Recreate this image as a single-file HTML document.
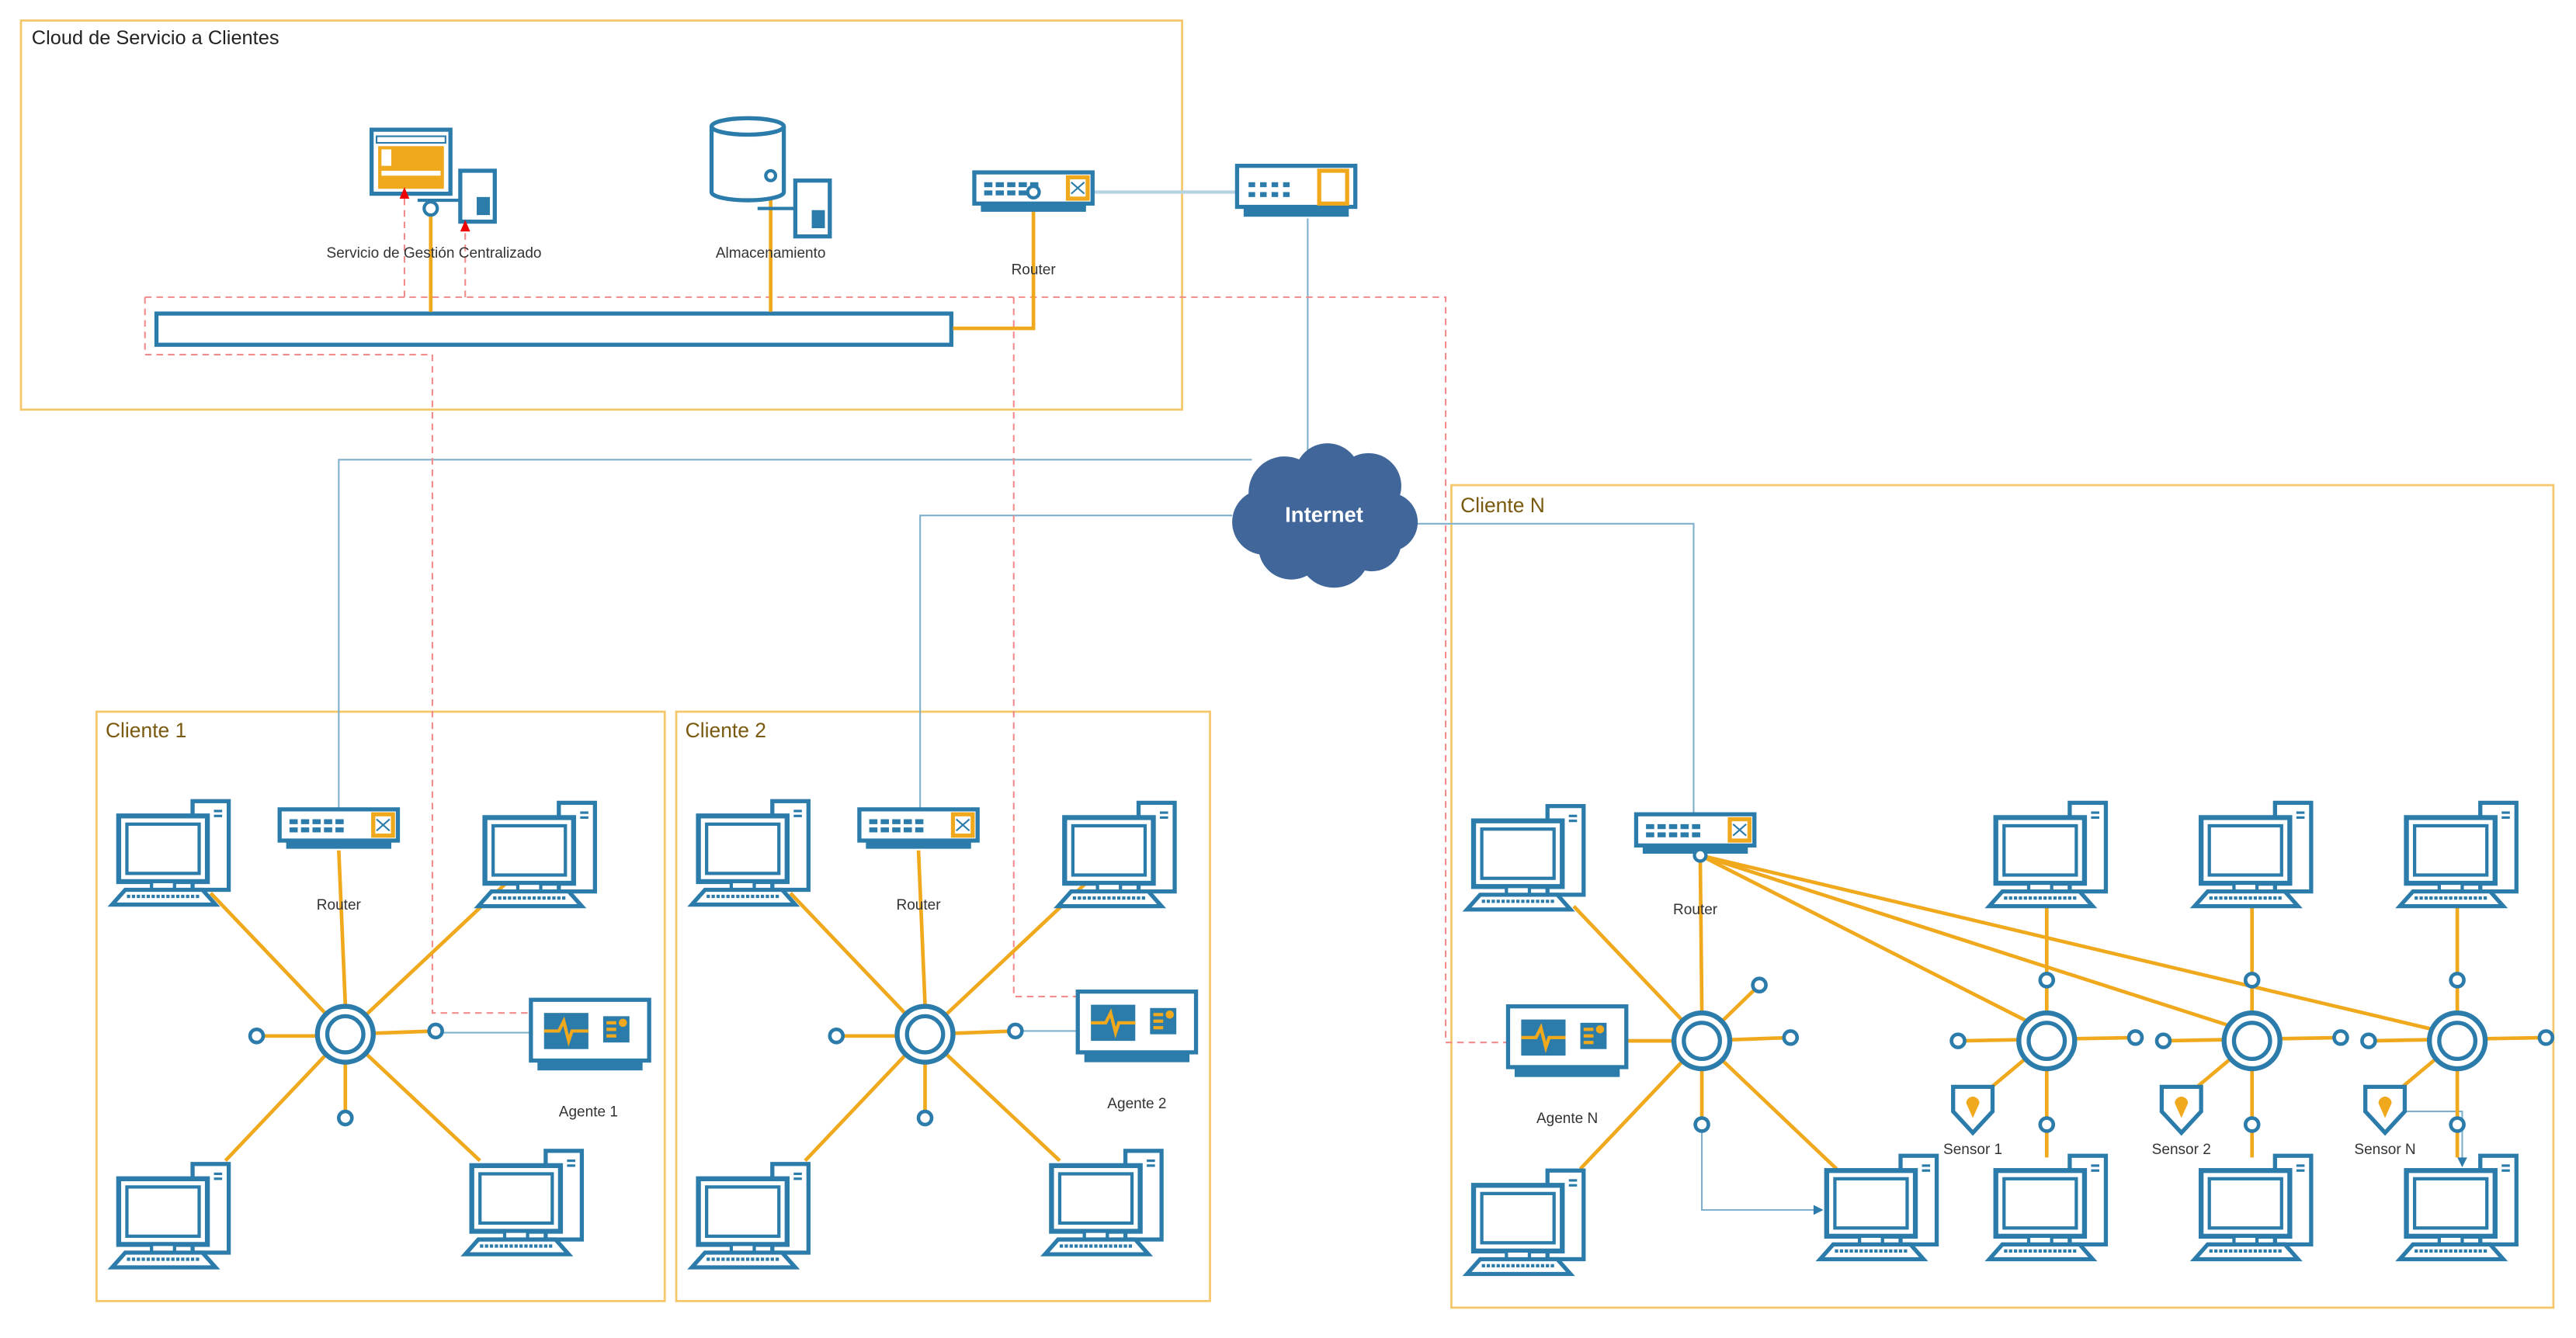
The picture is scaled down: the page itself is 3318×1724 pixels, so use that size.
<!DOCTYPE html>
<html><head><meta charset="utf-8"><style>
html,body{margin:0;padding:0;background:#fff;}
svg{display:block;}
text{font-family:"Liberation Sans",sans-serif;}
</style></head><body>
<svg width="3318" height="1724" viewBox="0 0 1568 815" xmlns="http://www.w3.org/2000/svg">
<defs>
<g id="pc">
 <rect x="50" y="1" width="22" height="54" fill="#fff" stroke="#2b7bab" stroke-width="2.5"/>
 <line x1="63" y1="7" x2="68" y2="7" stroke="#2b7bab" stroke-width="1.5"/>
 <line x1="63" y1="10" x2="68" y2="10" stroke="#2b7bab" stroke-width="1.5"/>
 <rect x="5" y="10" width="54" height="40" fill="#fff" stroke="#2b7bab" stroke-width="3"/>
 <rect x="10" y="15" width="44" height="30" fill="#fff" stroke="#2b7bab" stroke-width="2"/>
 <rect x="25" y="50" width="14" height="5" fill="#fff" stroke="#2b7bab" stroke-width="2"/>
 <polygon points="1,64 9,55 56,55 64,64" fill="#fff" stroke="#2b7bab" stroke-width="2.5"/>
 <line x1="10" y1="59" x2="54" y2="59" stroke="#2b7bab" stroke-width="2" stroke-dasharray="2,1"/>
</g>
<g id="router">
 <rect x="1" y="1" width="72" height="19" fill="#fff" stroke="#2b7bab" stroke-width="2.5"/>
 <rect x="5" y="20" width="64" height="5" fill="#2b7bab"/>
 <g fill="#2b7bab"><rect x="7" y="7" width="5" height="3"/><rect x="14" y="7" width="5" height="3"/><rect x="21" y="7" width="5" height="3"/><rect x="28" y="7" width="5" height="3"/><rect x="35" y="7" width="5" height="3"/>
 <rect x="7" y="12" width="5" height="3"/><rect x="14" y="12" width="5" height="3"/><rect x="21" y="12" width="5" height="3"/><rect x="28" y="12" width="5" height="3"/><rect x="35" y="12" width="5" height="3"/></g>
 <rect x="58" y="4" width="12" height="13" fill="#fff" stroke="#f0a81c" stroke-width="2.5"/>
 <path d="M60,7 L68,14 M60,14 L68,7" stroke="#2b7bab" stroke-width="1"/>
</g>
<g id="agent">
 <rect x="1" y="1" width="72" height="37" fill="#fff" stroke="#2b7bab" stroke-width="2.5"/>
 <rect x="5" y="38" width="64" height="6" fill="#2b7bab"/>
 <rect x="9" y="9" width="27" height="22" fill="#2b7bab"/>
 <path d="M9,20 L18,20 L21,14 L24,26 L26,20 L36,20" stroke="#f0a81c" stroke-width="2" fill="none"/>
 <rect x="45" y="11" width="16" height="16" fill="#2b7bab"/>
 <g fill="#f0a81c"><rect x="47" y="14" width="6" height="2"/><rect x="47" y="18" width="6" height="2"/><rect x="47" y="22" width="6" height="2"/><circle cx="57" cy="15" r="2.5"/></g>
</g>
<g id="hub">
 <circle r="17" fill="#fff" stroke="#2b7bab" stroke-width="3"/>
 <circle r="11" fill="#fff" stroke="#2b7bab" stroke-width="2.5"/>
</g>
<g id="dot"><circle r="4" fill="#fff" stroke="#2b7bab" stroke-width="2.2"/></g>
<g id="sensor">
 <path d="M-12,-13 L12,-13 L12,2 L0,15 L-12,2 Z" fill="#fff" stroke="#2b7bab" stroke-width="2.5"/>
 <path d="M0,6 L-4,-3 A4,4 0 1 1 4,-3 Z" fill="#f0a81c"/>
</g>
</defs>

<rect x="12.5" y="12.5" width="707" height="237" fill="none" stroke="#f5c76a" stroke-width="1.3"/>
<text x="19" y="27" font-size="12" fill="#222">Cloud de Servicio a Clientes</text>
<rect x="58.5" y="433.5" width="346" height="359" fill="none" stroke="#f5c76a" stroke-width="1.3"/>
<text x="64" y="449" font-size="12.5" fill="#7a5a10">Cliente 1</text>
<rect x="411.5" y="433.5" width="325" height="359" fill="none" stroke="#f5c76a" stroke-width="1.3"/>
<text x="417" y="449" font-size="12.5" fill="#7a5a10">Cliente 2</text>
<rect x="883.5" y="295.5" width="671" height="501" fill="none" stroke="#f5c76a" stroke-width="1.3"/>
<text x="889" y="312" font-size="12.5" fill="#7a5a10">Cliente N</text>

<g stroke="#7fb0cc" stroke-width="1" fill="none">
 <path d="M666,117 L752,117" stroke="#b5d3e2" stroke-width="2"/>
 <path d="M796,133 L796,275"/>
 <path d="M206,492 L206,280 L762,280"/>
 <path d="M560,492 L560,314 L750,314"/>
 <path d="M862,319 L1031,319 L1031,495"/>
 <path d="M266,629 L322,629"/>
 <path d="M619,628 L655,628"/>
 <path d="M1036,690 L1036,737 L1108,737"/>
 <path d="M1465,677 L1499,677 L1499,708"/>
</g>
<polygon points="1110,737 1104,734 1104,740" fill="#2b7bab"/>
<polygon points="1499,711 1496,705 1502,705" fill="#2b7bab"/>

<g stroke="#f28b8b" stroke-width="1" fill="none" stroke-dasharray="4,3">
 <path d="M88,181 L880,181 L880,635 L917,635"/>
 <path d="M88,181 L88,216 L263,216 L263,617 L322,617"/>
 <path d="M617,181 L617,607 L655,607"/>
</g>

<rect x="95" y="191" width="484" height="19" fill="#fff" stroke="#2b7bab" stroke-width="2.5"/>
<g stroke="#f0a81c" stroke-width="2.2" fill="none">
 <path d="M262,128 L262,190"/>
 <path d="M469,105 L469,190"/>
 <path d="M629,117 L629,200 L580,200"/>
</g>
<rect x="226" y="79" width="48" height="39" fill="#fff" stroke="#2b7bab" stroke-width="2.5"/>
<rect x="229" y="83" width="42" height="4" fill="#fff" stroke="#2b7bab" stroke-width="1"/>
<rect x="230" y="89" width="40" height="26" fill="#f0a81c"/>
<rect x="232" y="91" width="6" height="10" fill="#fff"/>
<rect x="232" y="104" width="36" height="3" fill="#fff"/>
<path d="M254,122 L280,122" stroke="#2b7bab" stroke-width="2"/>
<rect x="280" y="104" width="21" height="31" fill="#fff" stroke="#2b7bab" stroke-width="2.5"/>
<rect x="290" y="120" width="8" height="11" fill="#2b7bab"/>
<circle cx="262" cy="127" r="4" fill="#fff" stroke="#2b7bab" stroke-width="2"/>
<g stroke="#f28b8b" stroke-width="1" fill="none" stroke-dasharray="4,3">
 <path d="M246,181 L246,120"/>
 <path d="M283,181 L283,140"/>
</g>
<polygon points="246,114 243,121 249,121" fill="#e00"/>
<polygon points="283,134 280,141 286,141" fill="#e00"/>
<text x="264" y="157" font-size="9" fill="#333" text-anchor="middle">Servicio de Gestión Centralizado</text>
<path d="M433,77 L433,117 A22,5 0 0 0 477,117 L477,77" fill="#fff" stroke="#2b7bab" stroke-width="2.5"/>
<ellipse cx="455" cy="77" rx="22" ry="5" fill="#fff" stroke="#2b7bab" stroke-width="2.5"/>
<path d="M461,127 L484,127" stroke="#2b7bab" stroke-width="2"/>
<rect x="484" y="110" width="21" height="34" fill="#fff" stroke="#2b7bab" stroke-width="2.5"/>
<rect x="494" y="128" width="8" height="11" fill="#2b7bab"/>
<circle cx="469" cy="107" r="3" fill="#fff" stroke="#2b7bab" stroke-width="2"/>
<text x="469" y="157" font-size="9" fill="#333" text-anchor="middle">Almacenamiento</text>
<use href="#router" x="592" y="104"/>
<circle cx="629" cy="117" r="3.5" fill="#fff" stroke="#2b7bab" stroke-width="2"/>
<text x="629" y="167" font-size="9" fill="#333" text-anchor="middle">Router</text>
<rect x="753" y="101" width="72" height="25" fill="#fff" stroke="#2b7bab" stroke-width="2.5"/>
<rect x="757" y="126" width="64" height="6" fill="#2b7bab"/>
<g fill="#2b7bab"><rect x="760" y="111" width="4" height="3"/><rect x="767" y="111" width="4" height="3"/><rect x="774" y="111" width="4" height="3"/><rect x="781" y="111" width="4" height="3"/><rect x="760" y="117" width="4" height="3"/><rect x="767" y="117" width="4" height="3"/><rect x="774" y="117" width="4" height="3"/><rect x="781" y="117" width="4" height="3"/></g>
<rect x="803" y="104" width="17" height="20" fill="#fff" stroke="#f0a81c" stroke-width="2.5"/>

<g fill="#41669a">
 <circle cx="782" cy="300" r="22"/><circle cx="808" cy="290" r="20"/><circle cx="833" cy="296" r="20"/>
 <circle cx="770" cy="318" r="20"/><circle cx="845" cy="318" r="18"/><circle cx="786" cy="333" r="20"/>
 <circle cx="812" cy="336" r="22"/><circle cx="835" cy="330" r="18"/><rect x="775" y="295" width="65" height="45"/>
</g>
<text x="806" y="318" font-size="13" font-weight="bold" fill="#fff" text-anchor="middle">Internet</text>

<g stroke="#f0a81c" stroke-width="2.2">
 <line x1="210" y1="630" x2="128" y2="544"/><line x1="210" y1="630" x2="310" y2="536"/>
 <line x1="210" y1="630" x2="137" y2="707"/><line x1="210" y1="630" x2="292" y2="707"/>
 <line x1="206" y1="518" x2="210" y2="612"/><line x1="156" y1="631" x2="210" y2="631"/>
 <line x1="210" y1="630" x2="265" y2="628"/><line x1="210" y1="630" x2="210" y2="681"/>
</g>
<use href="#pc" x="67" y="487"/><use href="#pc" x="290" y="488"/>
<use href="#pc" x="67" y="708"/><use href="#pc" x="282" y="700"/>
<use href="#router" x="169" y="492"/>
<text x="206" y="554" font-size="9" fill="#333" text-anchor="middle">Router</text>
<use href="#agent" x="322" y="608"/>
<text x="358" y="680" font-size="9" fill="#333" text-anchor="middle">Agente 1</text>
<use href="#hub" x="210" y="630"/>
<use href="#dot" x="156" y="631"/><use href="#dot" x="265" y="628"/><use href="#dot" x="210" y="681"/>

<g stroke="#f0a81c" stroke-width="2.2">
 <line x1="563" y1="630" x2="481" y2="544"/><line x1="563" y1="630" x2="663" y2="536"/>
 <line x1="563" y1="630" x2="490" y2="707"/><line x1="563" y1="630" x2="645" y2="707"/>
 <line x1="559" y1="518" x2="563" y2="612"/><line x1="509" y1="631" x2="563" y2="631"/>
 <line x1="563" y1="630" x2="618" y2="628"/><line x1="563" y1="630" x2="563" y2="681"/>
</g>
<use href="#pc" x="420" y="487"/><use href="#pc" x="643" y="488"/>
<use href="#pc" x="420" y="708"/><use href="#pc" x="635" y="700"/>
<use href="#router" x="522" y="492"/>
<text x="559" y="554" font-size="9" fill="#333" text-anchor="middle">Router</text>
<use href="#agent" x="655" y="603"/>
<text x="692" y="675" font-size="9" fill="#333" text-anchor="middle">Agente 2</text>
<use href="#hub" x="563" y="630"/>
<use href="#dot" x="509" y="631"/><use href="#dot" x="618" y="628"/><use href="#dot" x="563" y="681"/>

<g stroke="#f0a81c" stroke-width="2.2">
 <line x1="1036" y1="634" x2="958" y2="552"/><line x1="1035" y1="521" x2="1036" y2="616"/>
 <line x1="990" y1="634" x2="1036" y2="634"/><line x1="1036" y1="634" x2="962" y2="712"/>
 <line x1="1036" y1="634" x2="1118" y2="712"/><line x1="1036" y1="634" x2="1071" y2="600"/>
 <line x1="1036" y1="634" x2="1090" y2="632"/><line x1="1036" y1="634" x2="1036" y2="685"/>
 <line x1="1035" y1="521" x2="1234" y2="622"/><line x1="1035" y1="521" x2="1358" y2="625"/>
 <line x1="1035" y1="521" x2="1481" y2="627"/>
 <line x1="1246" y1="552" x2="1246" y2="705"/><line x1="1192" y1="634" x2="1300" y2="632"/><line x1="1246" y1="634" x2="1209" y2="665"/>
 <line x1="1371" y1="552" x2="1371" y2="705"/><line x1="1317" y1="634" x2="1425" y2="632"/><line x1="1371" y1="634" x2="1334" y2="665"/>
 <line x1="1496" y1="552" x2="1496" y2="705"/><line x1="1442" y1="634" x2="1550" y2="632"/><line x1="1496" y1="634" x2="1459" y2="665"/>
</g>
<use href="#pc" x="892" y="490"/><use href="#pc" x="892" y="712"/><use href="#pc" x="1107" y="703"/>
<use href="#pc" x="1210" y="488"/><use href="#pc" x="1210" y="703"/>
<use href="#pc" x="1335" y="488"/><use href="#pc" x="1335" y="703"/>
<use href="#pc" x="1460" y="488"/><use href="#pc" x="1460" y="703"/>
<use href="#router" x="995" y="495"/>
<circle cx="1035" cy="521" r="3.5" fill="#fff" stroke="#2b7bab" stroke-width="2"/>
<text x="1032" y="557" font-size="9" fill="#333" text-anchor="middle">Router</text>
<use href="#agent" x="917" y="612"/>
<text x="954" y="684" font-size="9" fill="#333" text-anchor="middle">Agente N</text>
<use href="#hub" x="1036" y="634"/>
<use href="#dot" x="1071" y="600"/><use href="#dot" x="1090" y="632"/><use href="#dot" x="1036" y="685"/>
<use href="#hub" x="1246" y="634"/><use href="#hub" x="1371" y="634"/><use href="#hub" x="1496" y="634"/>
<use href="#dot" x="1246" y="597"/><use href="#dot" x="1246" y="685"/><use href="#dot" x="1192" y="634"/><use href="#dot" x="1300" y="632"/>
<use href="#dot" x="1371" y="597"/><use href="#dot" x="1371" y="685"/><use href="#dot" x="1317" y="634"/><use href="#dot" x="1425" y="632"/>
<use href="#dot" x="1496" y="597"/><use href="#dot" x="1496" y="685"/><use href="#dot" x="1442" y="634"/><use href="#dot" x="1550" y="632"/>
<use href="#sensor" x="1201" y="675"/><use href="#sensor" x="1328" y="675"/><use href="#sensor" x="1452" y="675"/>
<text x="1201" y="703" font-size="9" fill="#333" text-anchor="middle">Sensor 1</text>
<text x="1328" y="703" font-size="9" fill="#333" text-anchor="middle">Sensor 2</text>
<text x="1452" y="703" font-size="9" fill="#333" text-anchor="middle">Sensor N</text>
</svg>
</body></html>
